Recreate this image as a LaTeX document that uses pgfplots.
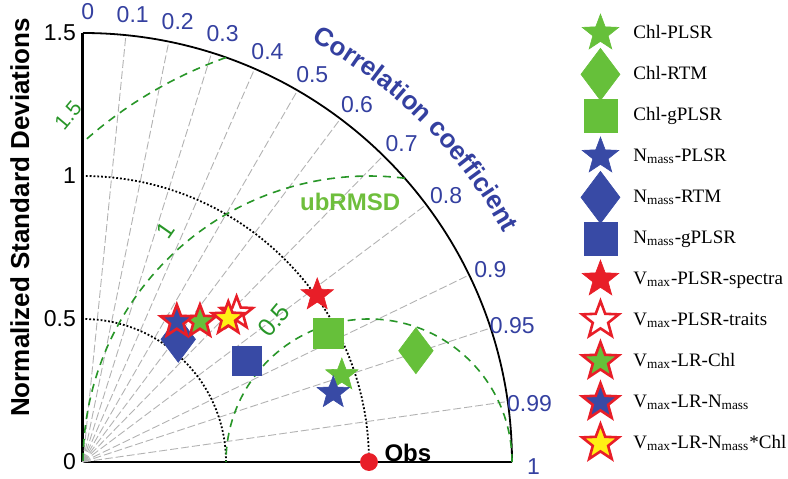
\documentclass[border=0pt]{standalone}
\usepackage{fontspec}
\setmainfont{Liberation Sans}
\newfontfamily\legfont{Liberation Serif}
\usepackage{pgfplots}
\pgfplotsset{compat=1.18}
\usetikzlibrary{decorations.text}

\definecolor{chlgreen}{RGB}{102,192,58}
\definecolor{nblue}{RGB}{56,74,165}
\definecolor{vred}{RGB}{232,30,40}
\definecolor{vyellow}{RGB}{255,240,20}
\definecolor{lblue}{RGB}{52,64,160}
\definecolor{dgreen}{RGB}{40,150,40}
\definecolor{ubgreen}{RGB}{110,190,60}

% filled five-pointed star
\pgfdeclareplotmark{fstar}{%
  \pgfpathmoveto{\pgfpointpolar{90}{\pgfplotmarksize}}%
  \pgfpathlineto{\pgfpointpolar{126}{0.42\pgfplotmarksize}}%
  \pgfpathlineto{\pgfpointpolar{162}{\pgfplotmarksize}}%
  \pgfpathlineto{\pgfpointpolar{198}{0.42\pgfplotmarksize}}%
  \pgfpathlineto{\pgfpointpolar{234}{\pgfplotmarksize}}%
  \pgfpathlineto{\pgfpointpolar{270}{0.42\pgfplotmarksize}}%
  \pgfpathlineto{\pgfpointpolar{306}{\pgfplotmarksize}}%
  \pgfpathlineto{\pgfpointpolar{342}{0.42\pgfplotmarksize}}%
  \pgfpathlineto{\pgfpointpolar{18}{\pgfplotmarksize}}%
  \pgfpathlineto{\pgfpointpolar{54}{0.42\pgfplotmarksize}}%
  \pgfpathclose
  \pgfusepathqfillstroke}

\pgfplotsset{
  star/.style={only marks, mark=fstar, mark size=8.5pt},
  dia/.style={only marks, mark=diamond*, mark size=11.5pt},
  sq/.style={only marks, mark=square*, mark size=7.3pt},
}

\begin{document}
\begin{tikzpicture}
\begin{axis}[
  scale only axis, width=214.5pt, height=214.5pt,
  xmin=0, xmax=1.5, ymin=0, ymax=1.5,
  axis x line=bottom, axis y line=left,
  axis line style={-},
  y axis line style={line width=1.5pt},
  x axis line style={line width=0.8pt},
  xtick=\empty, ytick={0,0.5,1,1.5},
  major tick length=0pt,
  /pgf/number format/assume math mode=true,
  yticklabel style={font=\fontsize{11.5}{12}\selectfont},
  ylabel={Normalized Standard Deviations},
  ylabel style={font=\bfseries\fontsize{13}{13}\selectfont,
    at={(axis description cs:-0.147,0.57)}, anchor=center},
  clip=false,
  legend cell align=left,
  legend image code/.code={
    \draw[#1, overlay, every mark/.append style={scale=1.13}] plot coordinates {(9pt,0pt)};
    \path[draw=none, fill=none] (0pt,-10.25pt) rectangle (18pt,10.25pt);},
  legend style={at={(axis cs:1.745,1.572)}, anchor=north west,
    draw=none, fill=none, inner sep=0pt, row sep=0pt, column sep=7.5pt,
    font=\legfont\fontsize{9.5}{11}\selectfont,
    nodes={inner sep=0pt}},
]
% correlation rays
\pgfplotsinvokeforeach{0.1,0.2,0.3,0.4,0.5,0.6,0.7,0.8,0.9,0.95,0.99}{
  \draw[gray!60, line width=0.45pt, dash pattern=on 4pt off 1.5pt]
    (axis cs:0,0) -- (axis cs:{1.5*#1},{1.5*sqrt(1-#1*#1)});
}
% standard deviation arcs
\draw[black, line width=0.9pt, densely dotted] (axis cs:1,0) arc[start angle=0, end angle=90, radius=143pt];
\draw[black, line width=0.9pt, densely dotted] (axis cs:0.5,0) arc[start angle=0, end angle=90, radius=71.5pt];
\draw[black, line width=0.9pt] (axis cs:1.5,0) arc[start angle=0, end angle=90, radius=214.5pt];
% ubRMSD arcs around Obs
\draw[dgreen, line width=0.8pt, dash pattern=on 4pt off 3pt] (axis cs:1.5,0) arc[start angle=0, end angle=180, radius=71.5pt];
\draw[dgreen, line width=0.8pt, dash pattern=on 4pt off 3pt] (axis cs:1.1253,0.9921) arc[start angle=82.82, end angle=180, radius=143pt];
\draw[dgreen, line width=0.8pt, dash pattern=on 4pt off 3pt] (axis cs:0.5,1.4142) arc[start angle=109.47, end angle=131.81, radius=214.5pt];
\node[dgreen, rotate=50, font=\fontsize{12.5}{13}\selectfont] at (axis cs:0.668,0.496) {0.5};
\node[dgreen, rotate=55, font=\fontsize{12}{13}\selectfont] at (axis cs:0.287,0.811) {1};
\node[dgreen, rotate=50, font=\fontsize{10.5}{12}\selectfont] at (axis cs:-0.052,1.212) {1.5};
\node[ubgreen, font=\bfseries\fontsize{12}{13}\selectfont] at (axis cs:0.934,0.909) {ubRMSD};
% correlation labels
\pgfplotsinvokeforeach{0,0.1,0.2,0.3,0.4,0.5,0.6,0.7,0.8,0.9,0.95,0.99,1}{
  \node[lblue, font=\fontsize{11.5}{12}\selectfont] at (axis cs:{1.575*cos(acos(#1)-0.6)},{1.575*sin(acos(#1)-0.6)}) {#1};
}
\path[decorate, decoration={text along path, text align=center, text color=lblue,
    text={|\bfseries\fontsize{13}{13}\selectfont|Correlation coefficient}}]
  (axis cs:{1.675*cos(63)},{1.675*sin(63)}) arc[start angle=63, end angle=27, radius=239.5pt];
\node[font=\bfseries\fontsize{12}{13}\selectfont] at (axis cs:1.136,0.031) {Obs};

\addplot[forget plot, only marks, mark=*, mark size=4.25pt, red, mark options={fill=vred, draw=vred}] coordinates {(1,0)};

\addplot[star, mark options={fill=chlgreen, draw=chlgreen, line width=0.3pt}] coordinates {(0.905,0.304)};
\addlegendentry{Chl-PLSR}
\addplot[dia, mark options={fill=chlgreen, draw=chlgreen, line width=0.3pt}] coordinates {(1.164,0.389)};
\addlegendentry{Chl-RTM}
\addplot[sq, mark options={fill=chlgreen, draw=chlgreen, line width=0.3pt}] coordinates {(0.858,0.450)};
\addlegendentry{Chl-gPLSR}
\addplot[star, mark options={fill=nblue, draw=nblue, line width=0.3pt}] coordinates {(0.875,0.242)};
\addlegendentry{N\textsubscript{mass}-PLSR}
\addplot[dia, mark options={fill=nblue, draw=nblue, line width=0.3pt}] coordinates {(0.333,0.429)};
\addlegendentry{N\textsubscript{mass}-RTM}
\addplot[sq, mark options={fill=nblue, draw=nblue, line width=0.3pt}] coordinates {(0.572,0.353)};
\addlegendentry{N\textsubscript{mass}-gPLSR}
\addplot[star, mark options={fill=vred, draw=vred, line width=0.3pt}] coordinates {(0.819,0.584)};
\addlegendentry{V\textsubscript{max}-PLSR-spectra}
\addplot[star, mark options={fill=white, draw=vred, line width=1.3pt}] coordinates {(0.537,0.520)};
\addlegendentry{V\textsubscript{max}-PLSR-traits}
\addplot[star, mark options={fill=chlgreen, draw=vred, line width=1.3pt}] coordinates {(0.409,0.491)};
\addlegendentry{V\textsubscript{max}-LR-Chl}
\addplot[star, mark options={fill=nblue, draw=vred, line width=1.3pt}] coordinates {(0.328,0.491)};
\addlegendentry{V\textsubscript{max}-LR-N\textsubscript{mass}}
\addplot[star, mark options={fill=vyellow, draw=vred, line width=1.3pt}] coordinates {(0.508,0.502)};
\addlegendentry{V\textsubscript{max}-LR-N\textsubscript{mass}*Chl}
\end{axis}
\pgfresetboundingbox
\useasboundingbox (current axis.south west) ++(-41.5pt,-8pt) rectangle ++(394pt,239pt);
\end{tikzpicture}
\end{document}
